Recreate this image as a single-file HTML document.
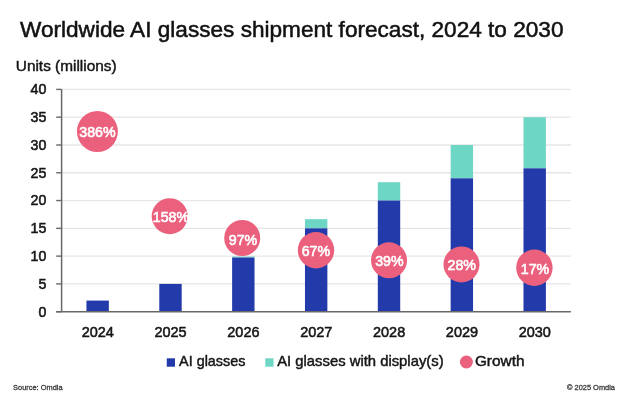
<!DOCTYPE html>
<html><head><meta charset="utf-8"><style>html,body{margin:0;padding:0;background:#fff;width:640px;height:406px;overflow:hidden;position:relative}</style></head>
<body>
<svg width="640" height="406" viewBox="0 0 640 406" style="position:absolute;left:0;top:0;font-family:'Liberation Sans', sans-serif;filter:blur(0.3px)">
<rect width="640" height="406" fill="#fff"/>
<text x="20.00" y="37.00" font-size="21.4" fill="#111" stroke="#111" stroke-width="0.5" textLength="543.5" lengthAdjust="spacingAndGlyphs">Worldwide AI glasses shipment forecast, 2024 to 2030</text>
<text x="15.80" y="70.50" font-size="14.8" fill="#161616" stroke="#161616" stroke-width="0.45" textLength="100.8" lengthAdjust="spacingAndGlyphs">Units (millions)</text>
<line x1="61.6" y1="283.91" x2="570.9" y2="283.91" stroke="#E6E6E6" stroke-width="1.3"/>
<line x1="61.6" y1="256.12" x2="570.9" y2="256.12" stroke="#E6E6E6" stroke-width="1.3"/>
<line x1="61.6" y1="228.34" x2="570.9" y2="228.34" stroke="#E6E6E6" stroke-width="1.3"/>
<line x1="61.6" y1="200.55" x2="570.9" y2="200.55" stroke="#E6E6E6" stroke-width="1.3"/>
<line x1="61.6" y1="172.76" x2="570.9" y2="172.76" stroke="#E6E6E6" stroke-width="1.3"/>
<line x1="61.6" y1="144.98" x2="570.9" y2="144.98" stroke="#E6E6E6" stroke-width="1.3"/>
<line x1="61.6" y1="117.19" x2="570.9" y2="117.19" stroke="#E6E6E6" stroke-width="1.3"/>
<line x1="61.6" y1="89.40" x2="570.9" y2="89.40" stroke="#E6E6E6" stroke-width="1.3"/>
<rect x="86.45" y="300.58" width="22.4" height="11.12" fill="#233AAA"/>
<rect x="159.29" y="283.91" width="22.4" height="27.79" fill="#233AAA"/>
<rect x="232.13" y="256.51" width="22.4" height="1.00" fill="#6ED6C4"/>
<rect x="232.13" y="257.51" width="22.4" height="54.19" fill="#233AAA"/>
<rect x="304.97" y="219.17" width="22.4" height="9.17" fill="#6ED6C4"/>
<rect x="304.97" y="228.34" width="22.4" height="83.36" fill="#233AAA"/>
<rect x="377.81" y="182.21" width="22.4" height="18.34" fill="#6ED6C4"/>
<rect x="377.81" y="200.55" width="22.4" height="111.15" fill="#233AAA"/>
<rect x="450.65" y="144.98" width="22.4" height="33.34" fill="#6ED6C4"/>
<rect x="450.65" y="178.32" width="22.4" height="133.38" fill="#233AAA"/>
<rect x="523.49" y="117.19" width="22.4" height="51.13" fill="#6ED6C4"/>
<rect x="523.49" y="168.32" width="22.4" height="143.38" fill="#233AAA"/>
<line x1="61.6" y1="89.4" x2="61.6" y2="311.7" stroke="#686868" stroke-width="1.5"/>
<line x1="56.2" y1="311.7" x2="570.9" y2="311.7" stroke="#686868" stroke-width="1.5"/>
<line x1="56.2" y1="311.70" x2="61.6" y2="311.70" stroke="#686868" stroke-width="1.4"/>
<text x="46.40" y="316.60" font-size="14.2" fill="#161616" stroke="#161616" stroke-width="0.55" text-anchor="end" textLength="7.9" lengthAdjust="spacingAndGlyphs">0</text>
<line x1="56.2" y1="283.91" x2="61.6" y2="283.91" stroke="#686868" stroke-width="1.4"/>
<text x="46.40" y="288.81" font-size="14.2" fill="#161616" stroke="#161616" stroke-width="0.55" text-anchor="end" textLength="7.9" lengthAdjust="spacingAndGlyphs">5</text>
<line x1="56.2" y1="256.12" x2="61.6" y2="256.12" stroke="#686868" stroke-width="1.4"/>
<text x="46.40" y="261.02" font-size="14.2" fill="#161616" stroke="#161616" stroke-width="0.55" text-anchor="end" textLength="15.8" lengthAdjust="spacingAndGlyphs">10</text>
<line x1="56.2" y1="228.34" x2="61.6" y2="228.34" stroke="#686868" stroke-width="1.4"/>
<text x="46.40" y="233.24" font-size="14.2" fill="#161616" stroke="#161616" stroke-width="0.55" text-anchor="end" textLength="15.8" lengthAdjust="spacingAndGlyphs">15</text>
<line x1="56.2" y1="200.55" x2="61.6" y2="200.55" stroke="#686868" stroke-width="1.4"/>
<text x="46.40" y="205.45" font-size="14.2" fill="#161616" stroke="#161616" stroke-width="0.55" text-anchor="end" textLength="15.8" lengthAdjust="spacingAndGlyphs">20</text>
<line x1="56.2" y1="172.76" x2="61.6" y2="172.76" stroke="#686868" stroke-width="1.4"/>
<text x="46.40" y="177.66" font-size="14.2" fill="#161616" stroke="#161616" stroke-width="0.55" text-anchor="end" textLength="15.8" lengthAdjust="spacingAndGlyphs">25</text>
<line x1="56.2" y1="144.98" x2="61.6" y2="144.98" stroke="#686868" stroke-width="1.4"/>
<text x="46.40" y="149.88" font-size="14.2" fill="#161616" stroke="#161616" stroke-width="0.55" text-anchor="end" textLength="15.8" lengthAdjust="spacingAndGlyphs">30</text>
<line x1="56.2" y1="117.19" x2="61.6" y2="117.19" stroke="#686868" stroke-width="1.4"/>
<text x="46.40" y="122.09" font-size="14.2" fill="#161616" stroke="#161616" stroke-width="0.55" text-anchor="end" textLength="15.8" lengthAdjust="spacingAndGlyphs">35</text>
<line x1="56.2" y1="89.40" x2="61.6" y2="89.40" stroke="#686868" stroke-width="1.4"/>
<text x="46.40" y="94.30" font-size="14.2" fill="#161616" stroke="#161616" stroke-width="0.55" text-anchor="end" textLength="15.8" lengthAdjust="spacingAndGlyphs">40</text>
<text x="97.75" y="336.70" font-size="14.9" fill="#161616" stroke="#161616" stroke-width="0.55" text-anchor="middle" textLength="32.2" lengthAdjust="spacingAndGlyphs">2024</text>
<text x="170.59" y="336.70" font-size="14.9" fill="#161616" stroke="#161616" stroke-width="0.55" text-anchor="middle" textLength="32.2" lengthAdjust="spacingAndGlyphs">2025</text>
<text x="243.43" y="336.70" font-size="14.9" fill="#161616" stroke="#161616" stroke-width="0.55" text-anchor="middle" textLength="32.2" lengthAdjust="spacingAndGlyphs">2026</text>
<text x="316.27" y="336.70" font-size="14.9" fill="#161616" stroke="#161616" stroke-width="0.55" text-anchor="middle" textLength="32.2" lengthAdjust="spacingAndGlyphs">2027</text>
<text x="389.11" y="336.70" font-size="14.9" fill="#161616" stroke="#161616" stroke-width="0.55" text-anchor="middle" textLength="32.2" lengthAdjust="spacingAndGlyphs">2028</text>
<text x="461.95" y="336.70" font-size="14.9" fill="#161616" stroke="#161616" stroke-width="0.55" text-anchor="middle" textLength="32.2" lengthAdjust="spacingAndGlyphs">2029</text>
<text x="534.79" y="336.70" font-size="14.9" fill="#161616" stroke="#161616" stroke-width="0.55" text-anchor="middle" textLength="32.2" lengthAdjust="spacingAndGlyphs">2030</text>
<circle cx="97.4" cy="131.5" r="20.5" fill="#EB617D"/>
<text x="97.50" y="137.40" font-size="14.2" fill="#fff" stroke="#fff" stroke-width="0.6" text-anchor="middle">386%</text>
<circle cx="169.7" cy="216.2" r="18" fill="#EB617D"/>
<text x="171.00" y="221.90" font-size="14.2" fill="#fff" stroke="#fff" stroke-width="0.6" text-anchor="middle">158%</text>
<circle cx="242.2" cy="238.0" r="18" fill="#EB617D"/>
<text x="243.00" y="244.80" font-size="14.2" fill="#fff" stroke="#fff" stroke-width="0.6" text-anchor="middle">97%</text>
<circle cx="316" cy="250.2" r="18.2" fill="#EB617D"/>
<text x="315.90" y="256.10" font-size="14.2" fill="#fff" stroke="#fff" stroke-width="0.6" text-anchor="middle">67%</text>
<circle cx="389" cy="260.3" r="18" fill="#EB617D"/>
<text x="389.40" y="265.60" font-size="14.2" fill="#fff" stroke="#fff" stroke-width="0.6" text-anchor="middle">39%</text>
<circle cx="461.5" cy="264.4" r="18" fill="#EB617D"/>
<text x="461.75" y="269.50" font-size="14.2" fill="#fff" stroke="#fff" stroke-width="0.6" text-anchor="middle">28%</text>
<circle cx="534.4" cy="267.7" r="18.2" fill="#EB617D"/>
<text x="535.00" y="273.70" font-size="14.2" fill="#fff" stroke="#fff" stroke-width="0.6" text-anchor="middle">17%</text>
<rect x="166.75" y="358.3" width="8.25" height="8.4" fill="#233AAA"/>
<text x="179.10" y="366.30" font-size="14.2" fill="#161616" stroke="#161616" stroke-width="0.45" textLength="66.3" lengthAdjust="spacingAndGlyphs">AI glasses</text>
<rect x="265.3" y="358.3" width="8.25" height="8.4" fill="#6ED6C4"/>
<text x="277.20" y="366.30" font-size="14.2" fill="#161616" stroke="#161616" stroke-width="0.45" textLength="166.4" lengthAdjust="spacingAndGlyphs">AI glasses with display(s)</text>
<circle cx="466.4" cy="362" r="6.5" fill="#EB617D"/>
<text x="474.90" y="366.30" font-size="14.2" fill="#161616" stroke="#161616" stroke-width="0.45" textLength="49.6" lengthAdjust="spacingAndGlyphs">Growth</text>
<text x="13.10" y="389.90" font-size="7.8" fill="#3a3a3a" stroke="#3a3a3a" stroke-width="0.3" textLength="49.5" lengthAdjust="spacingAndGlyphs">Source: Omdia</text>
<text x="615.00" y="389.90" font-size="7.8" fill="#3a3a3a" stroke="#3a3a3a" stroke-width="0.3" text-anchor="end" textLength="48" lengthAdjust="spacingAndGlyphs">© 2025 Omdia</text>
</svg>
</body></html>
